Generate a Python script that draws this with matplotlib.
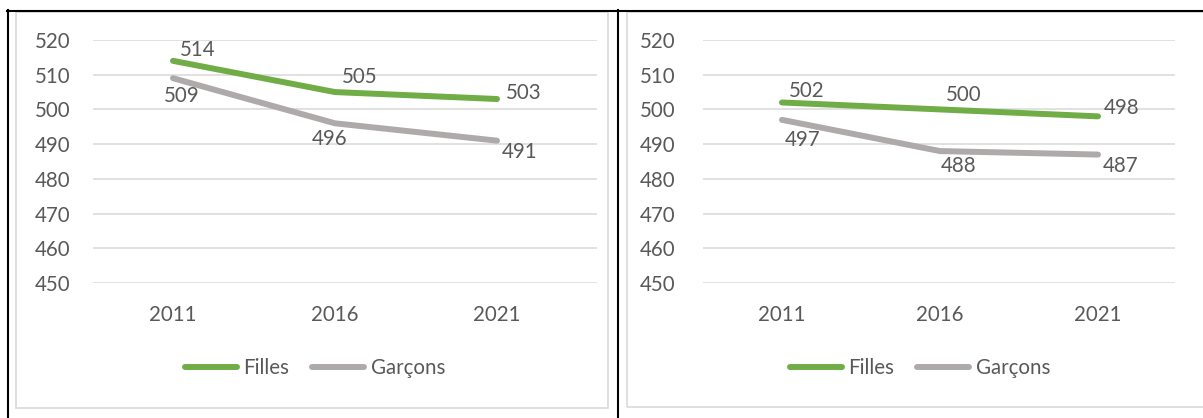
import matplotlib
matplotlib.use("Agg")
import matplotlib.pyplot as plt
from matplotlib.lines import Line2D
from matplotlib.patches import Rectangle

years = ["2011", "2016", "2021"]
left_filles = [514, 505, 503]
left_garcons = [509, 496, 491]
right_filles = [502, 500, 498]
right_garcons = [497, 488, 487]
yticks = [450, 460, 470, 480, 490, 500, 510, 520]
series_names = ["Filles", "Garçons"]

GREEN = "#70AD47"
GRAY = "#AEAAAA"
TXT = "#595959"
GRID = "#D9D9D9"
FS = 14.8

plt.rcParams['font.family'] = ['Lato', 'DejaVu Sans']

W, H = 1203, 418
fig = plt.figure(figsize=(W / 100, H / 100), dpi=100)
fig.patch.set_facecolor("white")

def fx(x):
    return x / W

def fy(y):
    return 1 - y / H

# chart frames (light gray)
fig.add_artist(Rectangle((fx(16), fy(408)), fx(608 - 16), (408 - 12) / H,
                         transform=fig.transFigure, fill=False, ec=GRID, lw=1.2))
fig.add_artist(Rectangle((fx(627), fy(407)), fx(1210 - 627), (407 - 12) / H,
                         transform=fig.transFigure, fill=False, ec=GRID, lw=1.2))
# table borders (black)
fig.add_artist(Line2D([fx(7), fx(1203)], [fy(10.5), fy(10.5)], transform=fig.transFigure, color="black", lw=1.5))
fig.add_artist(Line2D([fx(7.5), fx(7.5)], [fy(10), fy(418)], transform=fig.transFigure, color="black", lw=1.5))
fig.add_artist(Line2D([fx(618), fx(618)], [fy(10), fy(418)], transform=fig.transFigure, color="black", lw=1.5))

def make_chart(x0, x1, p0, p2, filles, garcons, offs_f, offs_g, ypad, leg_x):
    ax = fig.add_axes([fx(x0), fy(283), fx(x1 - x0), (283 - 40) / H])
    step = (p2 - p0) / 2
    ax.set_xlim(-(p0 - x0) / step, 2 + (x1 - p2) / step)
    ax.set_ylim(450, 520)
    ax.set_yticks(yticks)
    ax.set_xticks(range(len(years)))
    ax.set_xticklabels(years)
    for s in ax.spines.values():
        s.set_visible(False)
    ax.yaxis.grid(True, color=GRID, lw=1.1)
    ax.set_axisbelow(True)
    ax.tick_params(axis="both", length=0, colors=TXT, labelsize=FS)
    ax.tick_params(axis="y", pad=ypad)
    ax.tick_params(axis="x", pad=16)
    x = list(range(len(years)))
    ax.plot(x, filles, color=GREEN, lw=4.3, solid_capstyle="round", label=series_names[0], clip_on=False)
    ax.plot(x, garcons, color=GRAY, lw=4.3, solid_capstyle="round", label=series_names[1], clip_on=False)
    for i, v in enumerate(filles):
        ax.annotate(str(v), (i, v), xytext=offs_f[i], textcoords="offset points",
                    ha="center", va="center", fontsize=FS, color=TXT)
    for i, v in enumerate(garcons):
        ax.annotate(str(v), (i, v), xytext=offs_g[i], textcoords="offset points",
                    ha="center", va="center", fontsize=FS, color=TXT)
    leg = ax.legend(loc="center", bbox_to_anchor=((leg_x - x0) / (x1 - x0), (283 - 368) / 243),
                    ncol=2, frameon=False, fontsize=FS, handlelength=2.55, handletextpad=0.3,
                    columnspacing=1.1, labelcolor=TXT)
    for ln in leg.get_lines():
        ln.set_solid_capstyle("round")
    return ax

make_chart(93, 597, 173, 497, left_filles, left_garcons,
           [(18, 8), (18, 11), (19, 4)], [(6.5, -13), (-3.6, -11.5), (16.5, -8)], 16.5, 315)
make_chart(703, 1175, 782, 1098, right_filles, right_garcons,
           [(18, 8), (17, 10.5), (17, 6)], [(15, -14.5), (13.7, -11), (16, -8)], 20, 920)

fig.savefig("out.png", dpi=100, facecolor="white")
